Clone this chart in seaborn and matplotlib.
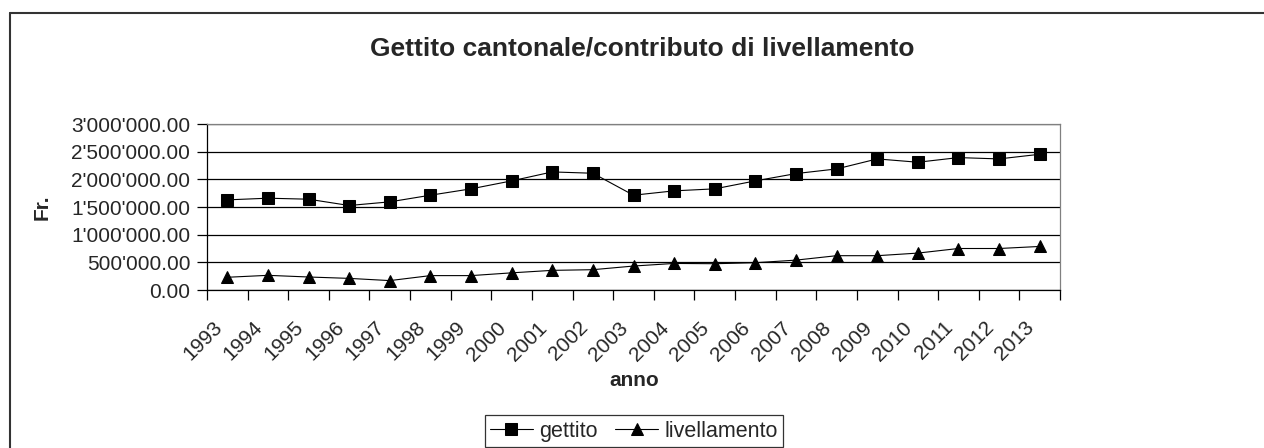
import pandas as pd
import matplotlib
matplotlib.use("Agg")
import matplotlib.pyplot as plt
from matplotlib.lines import Line2D
from matplotlib.ticker import FuncFormatter, FixedLocator
from matplotlib.transforms import ScaledTranslation
import seaborn as sns

anni = [str(a) for a in range(1993, 2014)]
gettito = [1629000, 1659000, 1641000, 1527000, 1593000, 1713000, 1828000,
           1972000, 2134000, 2110000, 1713000, 1792000, 1828000, 1972000,
           2104000, 2188000, 2369000, 2309000, 2393000, 2369000, 2453000]
livellamento = [230000, 265000, 235000, 210000, 170000, 260000, 260000,
                310000, 355000, 367000, 433000, 480000, 475000, 493000,
                540000, 620000, 620000, 667000, 750000, 750000, 787000]
serie = ["gettito", "livellamento"]

df = pd.DataFrame({
    "anno": anni * 2,
    "valore": gettito + livellamento,
    "serie": [serie[0]] * len(anni) + [serie[1]] * len(anni),
})

sns.set_theme(style="white")
plt.rcParams["font.family"] = ["Liberation Sans", "DejaVu Sans"]

fig = plt.figure(figsize=(12.64, 4.48), dpi=100)
ax = fig.add_axes([207 / 1264, 1 - 290 / 448, 853 / 1264, 166 / 448])

sns.lineplot(data=df, x="anno", y="valore", style="serie", markers=["s", "^"],
             dashes=False, color="black", linewidth=0.8, markersize=8,
             markeredgecolor="black", ax=ax, legend=True)

ax.set_xlim(-0.5, len(anni) - 0.5)
ax.set_ylim(0, 3000000)
ax.set_yticks(range(0, 3000001, 500000))
ax.yaxis.set_major_formatter(FuncFormatter(lambda v, p: f"{v:,.2f}".replace(",", "'")))
ax.grid(axis="y", color="black", linewidth=0.9)
ax.set_axisbelow(True)

# labels at category centers, tick marks at category boundaries
ax.set_xticks(range(len(anni)))
ax.set_xticklabels(anni, rotation=45, ha="right", va="top", rotation_mode="anchor")
ax.xaxis.set_minor_locator(FixedLocator([i - 0.5 for i in range(len(anni) + 1)]))
ax.tick_params(axis="x", which="major", length=0, pad=0, labelsize=15)
ax.tick_params(axis="x", which="minor", length=7, width=0.9, color="black", direction="out", bottom=True)
ax.tick_params(axis="y", length=7, width=0.9, color="black", direction="out", left=True, labelsize=15, pad=5)
shift = ScaledTranslation(-0.15, -0.28, fig.dpi_scale_trans)
for lab in ax.get_xticklabels():
    lab.set_transform(lab.get_transform() + shift)

for s in ["left", "bottom"]:
    ax.spines[s].set_color("black")
    ax.spines[s].set_linewidth(0.9)
for s in ["top", "right"]:
    ax.spines[s].set_color("#808080")
    ax.spines[s].set_linewidth(0.9)

ax.set_xlabel("")
ax.set_ylabel("")
fig.text(642 / 1264, 1 - 48 / 448, "Gettito cantonale/contributo di livellamento",
         ha="center", va="center", fontsize=19, fontweight="bold")
fig.text(42 / 1264, 1 - 207 / 448, "Fr.", ha="center", va="center",
         rotation=90, fontsize=15, fontweight="bold")
fig.text(634 / 1264, 1 - 380 / 448, "anno", ha="center", va="center",
         fontsize=15, fontweight="bold")

handles, labels = ax.get_legend_handles_labels()
ax.get_legend().remove()
leg = fig.legend(handles, labels, loc="lower center", bbox_to_anchor=(634 / 1264, 0.0),
                 ncol=2, frameon=True, fancybox=False, edgecolor="black",
                 fontsize=15.5, borderaxespad=0.05, handlelength=2.0,
                 handletextpad=0.3, columnspacing=0.8, borderpad=0.25)
leg.get_frame().set_linewidth(0.9)

# outer chart border (left and top visible)
fig.add_artist(Line2D([10 / 1264, 10 / 1264], [0, 1 - 13 / 448], color="#333333", linewidth=1.5))
fig.add_artist(Line2D([10 / 1264, 1], [1 - 13 / 448, 1 - 13 / 448], color="#333333", linewidth=1.5))

fig.savefig("out.png", dpi=100, facecolor="white")
